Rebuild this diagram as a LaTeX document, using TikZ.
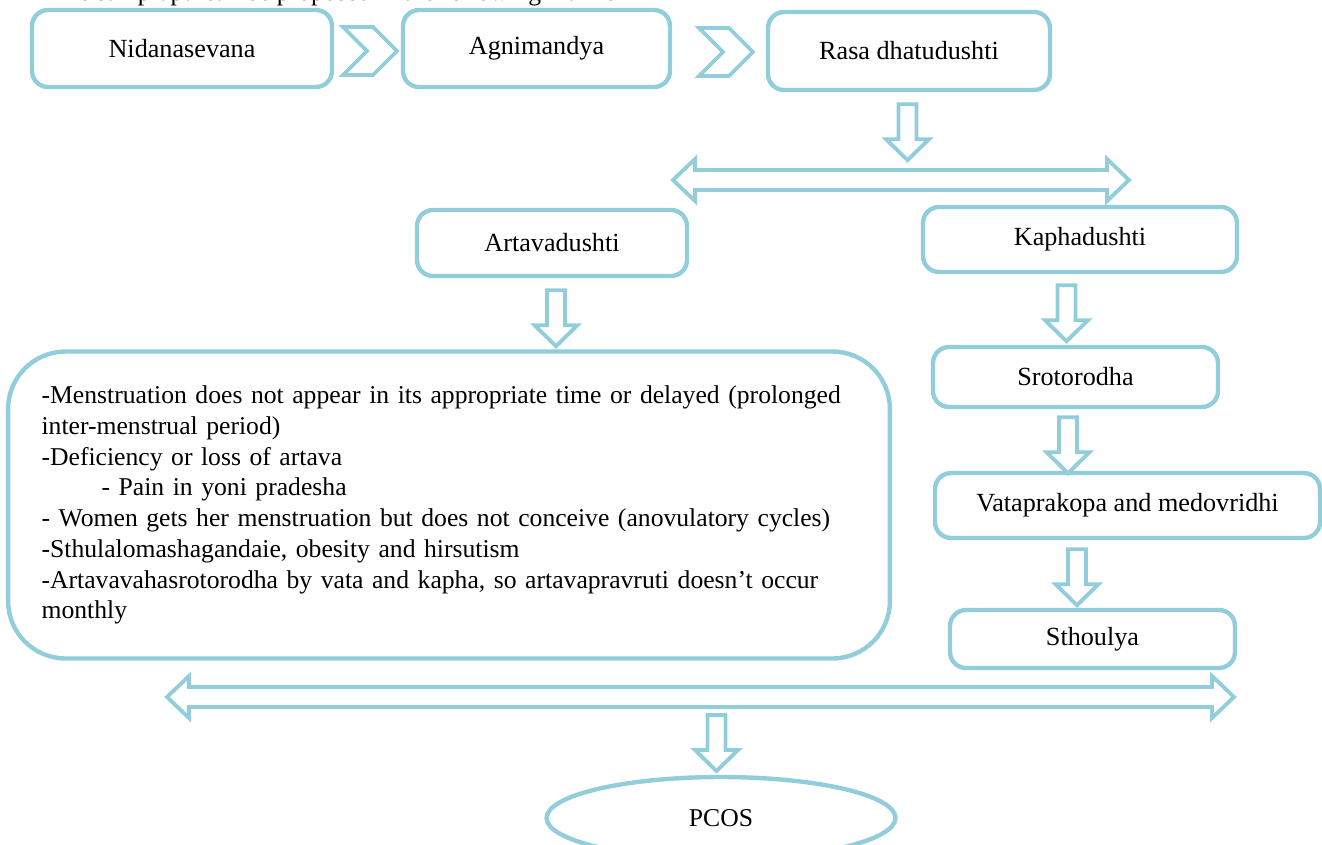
\documentclass[tikz,border=0pt]{standalone}
\usepackage{fontspec}
\setmainfont{Liberation Serif}
\usetikzlibrary{calc,shapes.geometric}
\definecolor{flowBlue}{HTML}{92CDDC}

\tikzset{
  arrowline/.style={draw=flowBlue,line width=2.2pt,line join=miter},
  pics/downarrow/.style={code={%
    \draw[arrowline] (-9,0) -- (-9,35) -- (-21.5,35) -- (0,56) -- (21.5,35) -- (9,35) -- (9,0) -- cycle;}},
  pics/chevron/.style={code={%
    \draw[arrowline] (0,0) -- (30,0) -- (54,24) -- (30,48) -- (0,48) -- (24,24) -- cycle;}},
  pics/bothways/.style={code={%
    \draw[arrowline] (0,0) -- (22,-21) -- (22,-10) -- (#1-22,-10) -- (#1-22,-21)
      -- (#1,0) -- (#1-22,21) -- (#1-22,10) -- (22,10) -- (22,21) -- cycle;}},
}

\begin{document}
\begin{tikzpicture}[
    x=0.02cm, y=-0.02cm,
    every node/.style={font=\fontsize{14.6}{17.5}\selectfont},
    stepbox/.style={draw=flowBlue,line width=2.5pt,rounded corners=0.32cm,
      inner sep=0pt,align=center,font=\fontsize{14.9}{17.5}\selectfont},
  ]
  \useasboundingbox (0,0) rectangle (1322,845);
  \clip (0,0) rectangle (1322,845);

  % lead-in line, cut by the page edge
  \node[anchor=base west,inner sep=0pt] (lead) at (50,0.5)
    {The samprapti can be proposed in the following manner};

  % top row
  \node[stepbox,minimum width=6cm,minimum height=1.54cm] (nidana) at (182,48.5) {Nidanasevana};
  \node[stepbox,minimum width=5.34cm,minimum height=1.54cm] (agni) at (536.5,48.5) {Agnimandya};
  \node[stepbox,minimum width=5.64cm,minimum height=1.56cm] (rasa) at (909,51) {Rasa dhatudushti};
  \pic at (343,27) {chevron};
  \pic at (699,28) {chevron};

  % split into two paths
  \pic at ($(rasa.south)+(-1.5,12)$) {downarrow};
  \coordinate (splitL) at (673,180);
  \pic at (splitL) {bothways=456};

  \node[stepbox,minimum width=5.4cm,minimum height=1.32cm] (artava) at (552,243) {Artavadushti};
  \node[stepbox,minimum width=6.28cm,minimum height=1.3cm] (kapha) at (1080,239.5) {Kaphadushti};

  % left branch
  \pic at ($(artava.south)+(4,12)$) {downarrow};
  \node[draw=flowBlue,line width=2.5pt,rounded corners=1.15cm,
    text width=16.3cm,inner xsep=0.67cm,minimum height=6.14cm,align=left]
    (signs) at (449,505) {%
    -Menstruation does not appear in its appropriate time or delayed (prolonged\\
    inter-menstrual period)\\
    -Deficiency or loss of artava\\
    \hspace*{1.2cm}- Pain in yoni pradesha\\
    - Women gets her menstruation but does not conceive (anovulatory cycles)\\
    -Sthulalomashagandaie, obesity and hirsutism\\
    -Artavavahasrotorodha by vata and kapha, so artavapravruti doesn't occur\\
    monthly};

  % right branch
  \pic at ($(kapha.south)+(-13.5,11)$) {downarrow};
  \node[stepbox,minimum width=5.7cm,minimum height=1.2cm] (sroto) at (1075.5,377) {Srotorodha};
  \pic at ($(sroto.south)+(-7.5,8)$) {downarrow};
  \node[stepbox,minimum width=7.7cm,minimum height=1.3cm] (vata) at (1127.5,505.5) {Vataprakopa and medovridhi};
  \pic at ($(vata.south)+(-50.5,9)$) {downarrow};
  \node[stepbox,minimum width=5.7cm,minimum height=1.16cm] (sthoulya) at (1092.5,639) {Sthoulya};

  % merge into PCOS
  \coordinate (mergeL) at (167,697);
  \pic at (mergeL) {bothways=1067};
  \pic at (716.5,715) {downarrow};
  \node[draw=flowBlue,line width=2.5pt,ellipse,minimum width=6.98cm,minimum height=1.64cm,
    inner sep=0pt] (pcos) at (721,818) {PCOS};
\end{tikzpicture}
\end{document}
